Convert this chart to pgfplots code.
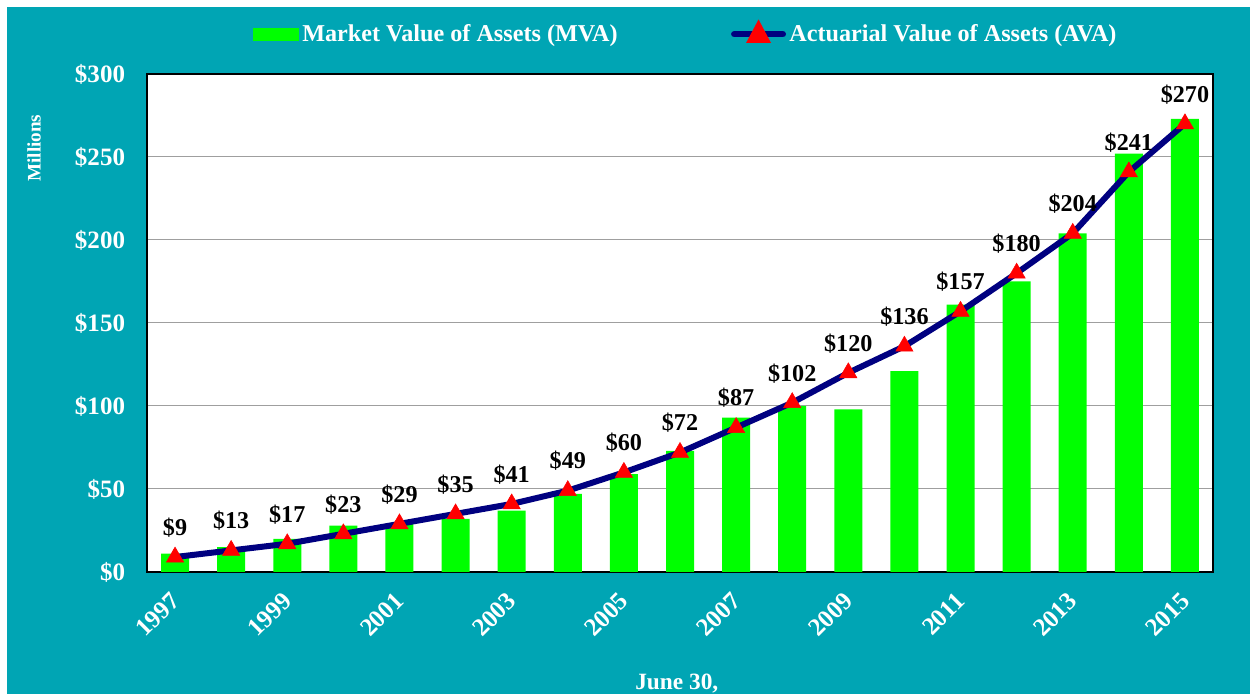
\documentclass[border=0pt]{standalone}
\usepackage{pgfplots}
\pgfplotsset{compat=1.18}
\usepackage{fontspec}
\setmainfont{Liberation Serif}
\definecolor{bgteal}{RGB}{0,165,180}
\definecolor{mvagreen}{RGB}{0,255,0}
\definecolor{avanavy}{RGB}{0,0,128}
\begin{document}
\begin{tikzpicture}
\path[use as bounding box] (0pt,0pt) rectangle (750pt,416.4pt);
\fill[white] (0pt,0pt) rectangle (750pt,416.4pt);
\fill[bgteal] (4.2pt,0pt) rectangle (750pt,412.2pt);
\begin{axis}[
  at={(88.2pt,73.2pt)}, anchor=south west,
  scale only axis, width=639.6pt, height=298.8pt,
  xmin=1996.5, xmax=2015.5, ymin=0, ymax=300,
  clip=false,
  axis background/.style={fill=white},
  axis line style={black, line width=0.8pt},
  ymajorgrids, grid style={gray!75, line width=0.6pt},
  major tick length=0pt,
  ytick={0,50,...,300},
  yticklabels={\$0,\$50,\$100,\$150,\$200,\$250,\$300},
  xtick={1997,1999,...,2015},
  xticklabels={1997,1999,2001,2003,2005,2007,2009,2011,2013,2015},
  tick label style={font=\bfseries\fontsize{15}{15}\selectfont, text=white},
  yticklabel style={anchor=east, inner sep=0pt, xshift=-13pt},
  xticklabel style={inner sep=0pt, anchor=north east, xshift=-3.5pt, yshift=-11pt, rotate=45},
  xlabel={June 30,},
  xlabel style={at={(axis description cs:0.497,-0.223)}, anchor=center, text=white, font=\bfseries\fontsize{14}{14}\selectfont},
  ylabel={Millions},
  ylabel style={at={(axis description cs:-0.106,0.851)}, anchor=center, text=white, font=\bfseries\fontsize{11.5}{11.5}\selectfont},
  legend columns=2,
  legend style={at={(0.506,1.080)}, anchor=center, draw=none, fill=none, text=white,
    font=\bfseries\fontsize{14.5}{14.5}\selectfont,
    /tikz/every even column/.append style={column sep=66pt}},
]
\addplot[ybar, bar width=16.8pt, fill=mvagreen, draw=none,
  legend image code/.code={\fill[mvagreen] (0pt,-3.9pt) rectangle (27.6pt,3.9pt);}]
  coordinates {
  (1997,11) (1998,15) (1999,20) (2000,28) (2001,29) (2002,32) (2003,37)
  (2004,47) (2005,59) (2006,73) (2007,93) (2008,100) (2009,98) (2010,121)
  (2011,161) (2012,175) (2013,204) (2014,252) (2015,273)};
\addlegendentry{Market Value of Assets (MVA)}
\addplot[avanavy, line width=3.6pt, mark=triangle*, mark size=6pt,
  mark options={solid, fill=red, draw=red, line width=0.3pt},
  point meta=y,
  nodes near coords={\$\pgfmathprintnumber[assume math mode=true]{\pgfplotspointmeta}},
  every node near coord/.append style={anchor=base, inner sep=0pt, yshift=13pt, text=black,
    font=\bfseries\fontsize{14.5}{14.5}\selectfont},
  legend image code/.code={
    \draw[avanavy, line width=4pt, line cap=round] (2pt,0pt) -- (31pt,0pt);
    \fill[red] (16.5pt,5pt) -- (12pt,-3.5pt) -- (21pt,-3.5pt) -- cycle;}]
  coordinates {
  (1997,9) (1998,13) (1999,17) (2000,23) (2001,29) (2002,35) (2003,41)
  (2004,49) (2005,60) (2006,72) (2007,87) (2008,102) (2009,120) (2010,136)
  (2011,157) (2012,180) (2013,204) (2014,241) (2015,270)};
\addlegendentry{Actuarial Value of Assets (AVA)}
\end{axis}
\end{tikzpicture}
\end{document}
